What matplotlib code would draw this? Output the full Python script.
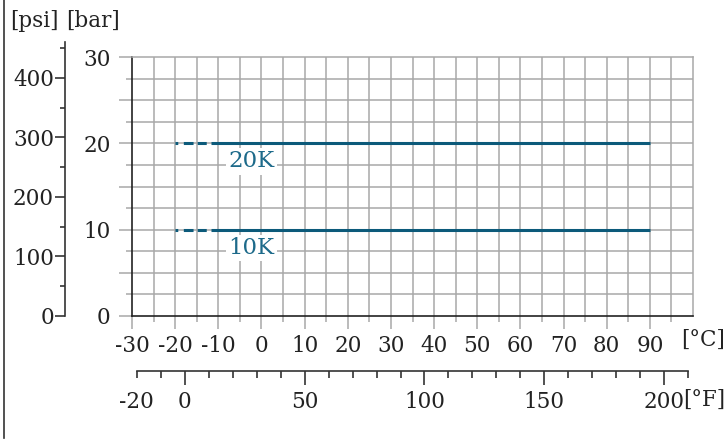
import matplotlib
matplotlib.use("Agg")
import matplotlib.pyplot as plt
from matplotlib.lines import Line2D
import numpy as np

plt.rcParams['font.family'] = ['DejaVu Serif']
plt.rcParams['axes.unicode_minus'] = False
plt.rcParams['lines.scale_dashes'] = False

# data
ratings = ["20K", "10K"]
pressure_bar = [20, 10]
dashed_from = -20      # degC
solid_from = -11.7     # degC
solid_to = 90          # degC
label_x = -2.3         # degC
c_ticks = list(range(-30, 100, 10))
f_ticks = [-20, 0, 50, 100, 150, 200]
psi_ticks = [0, 100, 200, 300, 400]
bar_labels = [0, 10, 20, 30]

W, H = 727, 443
line_col = '#0c5a7a'
text_col = '#1d6a8a'
grid_col = '#a8a8a8'
ink = '#222222'
fs = 15.5


def fx(px):
    return px / W


def fy(py):
    return 1 - py / H


fig = plt.figure(figsize=(W / 100, H / 100), dpi=100)

# main axes: -30..100 degC, 0..30 bar
left, right, top, bottom = 132, 693, 57, 316
ax = fig.add_axes([fx(left), fy(bottom), fx(right - left), (bottom - top) / H])
ax.set_xlim(-30, 100)
ax.set_ylim(0, 30)

for v in np.arange(-25, 100, 5):
    ax.axvline(v, color=grid_col, lw=1.1, zorder=1)
for v in np.arange(2.5, 30, 2.5):
    ax.axhline(v, color=grid_col, lw=1.1, zorder=1)

ax.set_xticks(np.arange(-30, 100, 10))
ax.set_xticks(np.arange(-25, 100, 10), minor=True)
ax.set_xticklabels([str(t) for t in c_ticks])
ax.set_yticks(np.arange(0, 31, 5))
ax.set_yticks(np.arange(2.5, 30, 5), minor=True)
ax.set_yticklabels([str(int(t)) if t in bar_labels else '' for t in np.arange(0, 31, 5)])
ax.tick_params(which='major', length=9.5, width=1.1, color=grid_col,
               labelsize=fs, labelcolor=ink, pad=4)
ax.tick_params(which='minor', length=4.5, width=1.1, color=grid_col)
ax.tick_params(axis='y', which='major', pad=6)
for s in ['top', 'right']:
    ax.spines[s].set_color(grid_col)
    ax.spines[s].set_linewidth(1.1)
for s in ['left', 'bottom']:
    ax.spines[s].set_color(ink)
    ax.spines[s].set_linewidth(1.2)

for name, p in zip(ratings, pressure_bar):
    ax.plot([dashed_from, solid_from], [p, p], color=line_col, lw=2.2,
            dashes=(2, 4, 7, 3, 6.5, 3.5), solid_capstyle='butt',
            dash_capstyle='butt', zorder=3)
    ax.plot([solid_from, solid_to], [p, p], color=line_col, lw=2.2,
            solid_capstyle='butt', zorder=3)
    ax.text(label_x, p - 2.1, name, color=text_col, fontsize=fs + 1,
            ha='center', va='center', zorder=4,
            bbox=dict(facecolor='white', edgecolor='none', pad=1.5))

# psi axis
psi_top = 460
bar_px = (bottom - top) / 30
psi_h = psi_top / 14.5038 * bar_px
axp = fig.add_axes([fx(65), fy(bottom), 0.001, psi_h / H])
axp.set_ylim(0, psi_top)
axp.set_xticks([])
axp.set_yticks(psi_ticks)
axp.set_yticks(np.arange(50, 460, 100), minor=True)
axp.set_yticklabels([str(t) for t in psi_ticks])
for s in ['top', 'right', 'bottom']:
    axp.spines[s].set_visible(False)
axp.spines['left'].set_color('#333333')
axp.spines['left'].set_linewidth(1.2)
axp.patch.set_visible(False)
axp.tick_params(which='major', length=7, width=1.2, color='#333333',
                labelsize=fs, labelcolor=ink, pad=1)
axp.tick_params(which='minor', length=3.6, width=1.2, color='#333333')

# degF axis
axf = fig.add_axes([fx(left), fy(371), fx(right - left), 0.001])
axf.set_xlim(-30 * 9 / 5 + 32, 100 * 9 / 5 + 32)
axf.set_yticks([])
for s in ['top', 'right', 'left']:
    axf.spines[s].set_visible(False)
axf.spines['bottom'].set_bounds(-20, 210)
axf.spines['bottom'].set_color('#333333')
axf.spines['bottom'].set_linewidth(1.2)
axf.patch.set_visible(False)
axf.set_xticks(f_ticks)
axf.set_xticklabels([str(t) for t in f_ticks])
axf.set_xticks([t for t in range(-20, 211, 10) if t not in f_ticks], minor=True)
axf.tick_params(which='major', length=10, width=1.2, color='#333333',
                labelsize=fs, labelcolor=ink, pad=4.5)
axf.tick_params(which='minor', length=5, width=1.2, color='#333333')
# the -20 degF tick is short like the minor ones
first = axf.xaxis.get_major_ticks()[0]
first.tick1line.set_markersize(5)

# unit labels
fig.text(fx(34), fy(21), '[psi]', ha='center', va='center', fontsize=fs, color=ink)
fig.text(fx(93), fy(21), '[bar]', ha='center', va='center', fontsize=fs, color=ink)
fig.text(fx(725), fy(340), '[°C]', ha='right', va='center', fontsize=fs, color=ink)
fig.text(fx(725), fy(400), '[°F]', ha='right', va='center', fontsize=fs, color=ink)

fig.add_artist(Line2D([fx(3.5), fx(3.5)], [fy(438), 1], transform=fig.transFigure,
                      color='#333333', lw=1.2))

fig.savefig('out.png', dpi=100)
